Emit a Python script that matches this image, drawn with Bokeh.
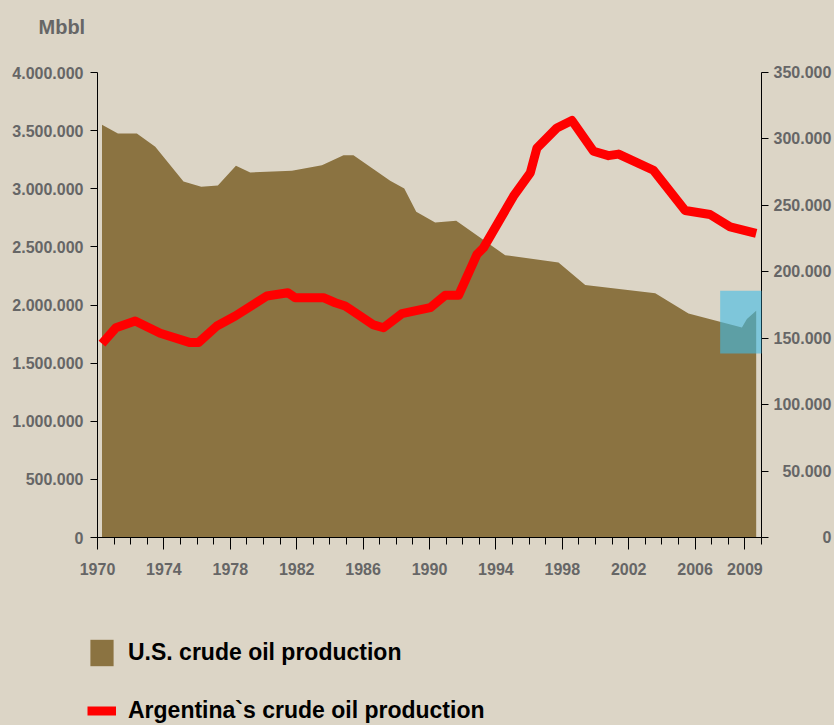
from bokeh.plotting import figure
from bokeh.layouts import column
from bokeh.models import (Range1d, LinearAxis, FixedTicker, Legend, LegendItem,
                          BoxAnnotation, Label)
from bokeh.embed import file_html
from bokeh.resources import INLINE

# ---------------- data ----------------
us_years = [1970.27, 1971.23, 1972.37, 1973.48, 1975.18, 1976.25, 1977.25, 1978.34, 1979.20,
            1981.71, 1983.52, 1984.82, 1985.42, 1987.63, 1988.48, 1989.20, 1990.34, 1991.61,
            1994.56, 1997.77, 1999.38, 2003.60, 2005.60, 2008.82, 2009.12, 2009.68]
us_production = [3550000, 3475000, 3475000, 3361000, 3062000, 3017000, 3028000, 3197000, 3140000,
                 3154000, 3203000, 3289000, 3289000, 3068000, 3002000, 2802000, 2710000, 2724000,
                 2429000, 2366000, 2171000, 2102000, 1927000, 1806000, 1879000, 1950000]

ar_years = [1970.27, 1971.11, 1972.27, 1973.78, 1975.58, 1976.08, 1977.19, 1978.30, 1980.20,
            1981.47, 1981.91, 1983.61, 1984.32, 1984.92, 1985.22, 1986.63, 1987.23, 1988.34,
            1990.04, 1990.95, 1991.75, 1992.86, 1993.25, 1995.06, 1996.07, 1996.47, 1997.67,
            1998.58, 1999.88, 2000.78, 2001.39, 2003.49, 2005.40, 2006.90, 2008.11, 2009.68]
ar_production = [145900, 157900, 163000, 153700, 146700, 146700, 159200, 166700, 181800,
                 184200, 180500, 180500, 176700, 174200, 171800, 160000, 157900, 168500,
                 173000, 182300, 182300, 213100, 218000, 256900, 274400, 293100, 308200,
                 313900, 290700, 287400, 288600, 276400, 246100, 243100, 233800, 228900]

x_major_ticks = [1970, 1974, 1978, 1982, 1986, 1990, 1994, 1998, 2002, 2006, 2009]
x_minor_ticks = list(range(1970, 2011))
left_ticks = [0, 500000, 1000000, 1500000, 2000000, 2500000, 3000000, 3500000, 4000000]
right_ticks = [0, 50000, 100000, 150000, 200000, 250000, 300000, 350000]

highlight_x = [2007.51, 2011.12]
highlight_y = [1583000, 2122000]

unit_label = "Mbbl"
us_label = "U.S. crude oil production"
ar_label = "Argentina`s crude oil production"


def dotted(v):
    return f"{v:,}".replace(",", ".")


def dotted_right(v, width=7):
    # pad with figure spaces so the labels line up on their right edge
    s = dotted(v)
    pad = width - len(s)
    if pad <= 0:
        return s
    return "\u2007" * (pad - 1) + ("\u2008" if pad >= 2 else "\u2007") + s


# ---------------- styling ----------------
BG = "#DCD5C6"
BROWN = "#8B7341"
RED = "#FF0000"
GRAY = "#666666"
FONT = "Liberation Sans"
W = 834


def plain(fig):
    fig.background_fill_color = BG
    fig.border_fill_color = BG
    fig.outline_line_color = None
    return fig


# ---- top strip: unit label ----
p_top = plain(figure(width=W, height=40, min_border=0, x_axis_type=None, y_axis_type=None,
                     x_range=Range1d(0, 1), y_range=Range1d(0, 1), frame_align=False,
                     output_backend="svg", toolbar_location=None))
p_top.add_layout(Label(x=38, y=14, x_units="screen", y_units="screen", text=unit_label,
                       text_font=FONT, text_font_style="bold", text_font_size="20px",
                       text_color=GRAY, text_baseline="alphabetic"))

# ---- main chart ----
p = plain(figure(frame_width=664, frame_height=465,
                 min_border_left=97, min_border_right=73, min_border_top=32, min_border_bottom=53,
                 x_range=Range1d(1970, 2010), y_range=Range1d(0, 4000000), frame_align=False,
                 output_backend="svg", toolbar_location=None))
p.xgrid.visible = False
p.ygrid.visible = False
p.extra_y_ranges = {"right": Range1d(0, 350000)}

area = p.varea(x=us_years, y1=0, y2=us_production, fill_color=BROWN)
line = p.line(x=ar_years, y=ar_production, y_range_name="right",
              line_color=RED, line_width=9, line_join="round")

xa = p.xaxis[0]
xa.ticker = FixedTicker(ticks=x_major_ticks, minor_ticks=x_minor_ticks)
xa.major_tick_out = 12
xa.major_tick_in = 0
xa.minor_tick_out = 7
xa.minor_tick_in = 0
xa.major_label_standoff = 13

ya = p.yaxis[0]
ya.ticker = FixedTicker(ticks=left_ticks)
ya.major_label_overrides = {v: dotted(v) for v in left_ticks}
ya.major_tick_out = 7
ya.major_tick_in = 0
ya.minor_tick_out = 0
ya.minor_tick_in = 0
ya.major_label_standoff = 7

ra = LinearAxis(y_range_name="right", ticker=FixedTicker(ticks=right_ticks))
ra.major_label_overrides = {v: dotted_right(v) for v in right_ticks}
ra.major_tick_out = 7
ra.major_tick_in = 0
ra.minor_tick_out = 0
ra.minor_tick_in = 0
ra.major_label_standoff = 5
p.add_layout(ra, "right")

for ax in (xa, ya, ra):
    ax.axis_line_color = "black"
    ax.major_tick_line_color = "black"
    ax.minor_tick_line_color = "black"
    ax.major_label_text_font = FONT
    ax.major_label_text_font_style = "bold"
    ax.major_label_text_font_size = "16px"
    ax.major_label_text_color = GRAY

p.add_layout(BoxAnnotation(left=highlight_x[0], right=highlight_x[1],
                           bottom=highlight_y[0], top=highlight_y[1],
                           fill_color="#40BCE8", fill_alpha=0.6, line_color=None))

# ---- legend strip (series styled the same; data lies outside this strip's ranges) ----
p_leg = plain(figure(width=W, height=135, min_border=0, x_axis_type=None, y_axis_type=None,
                     x_range=Range1d(0, 1), y_range=Range1d(0, 1), frame_align=False,
                     output_backend="svg", toolbar_location=None))
leg_area = p_leg.varea(x=us_years, y1=0, y2=us_production, fill_color=BROWN)
leg_line = p_leg.line(x=ar_years, y=ar_production, line_color=RED, line_width=9)
legend = Legend(items=[LegendItem(label=us_label, renderers=[leg_area]),
                       LegendItem(label=ar_label, renderers=[leg_line])],
                location=(87, -2), orientation="vertical",
                glyph_width=29, glyph_height=33, spacing=25, label_standoff=12,
                padding=0, margin=0, border_line_color=None, background_fill_alpha=0,
                label_text_font=FONT, label_text_font_style="bold",
                label_text_font_size="23px", label_text_color="black")
p_leg.add_layout(legend)

layout = column(p_top, p, p_leg, spacing=0, styles={"background-color": BG})
open("out.html", "w").write(file_html(layout, INLINE))
